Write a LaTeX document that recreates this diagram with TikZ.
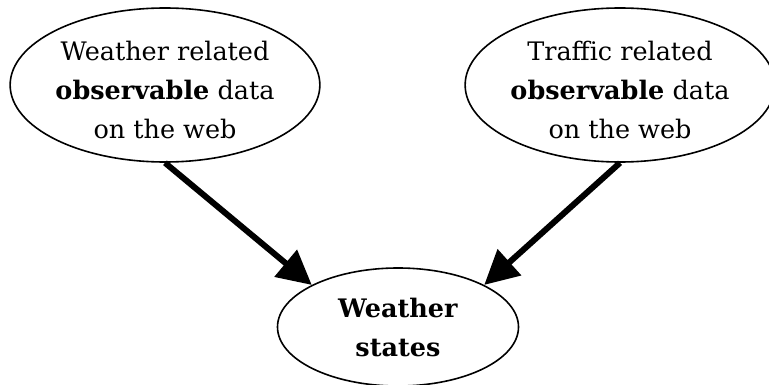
\documentclass[tikz,border=0pt]{standalone}
\usepackage{fontspec}
\setmainfont{DejaVu Serif}
\usetikzlibrary{shapes.geometric,arrows.meta}
\newcommand{\lowstrut}{\rule{0pt}{29pt}}
\begin{document}
\begin{tikzpicture}[x=1pt,y=-1pt,
  oval/.style={ellipse,draw,line width=1.6pt,inner sep=0pt,align=center,
    font=\fontsize{25.5}{39}\selectfont},
  link/.style={line width=6pt,-{Triangle[length=34pt,width=34pt]}}]
\useasboundingbox (0,0) rectangle (769,385);
\node[oval,minimum width=306pt,minimum height=154pt] (L) at (165,85)
  {\lowstrut Weather related\\\textbf{observable} data\\on the web};
\node[oval,minimum width=296pt,minimum height=154pt] (R) at (620,85)
  {\lowstrut Traffic related\\\textbf{observable} data\\on the web};
\node[oval,minimum width=241pt,minimum height=118pt] (B) at (398,327)
  {\textbf{Weather}\\\textbf{states}};
\draw[link] (L.south) -- (B.154);
\draw[link] (R.south) -- (B.26);
\end{tikzpicture}
\end{document}
